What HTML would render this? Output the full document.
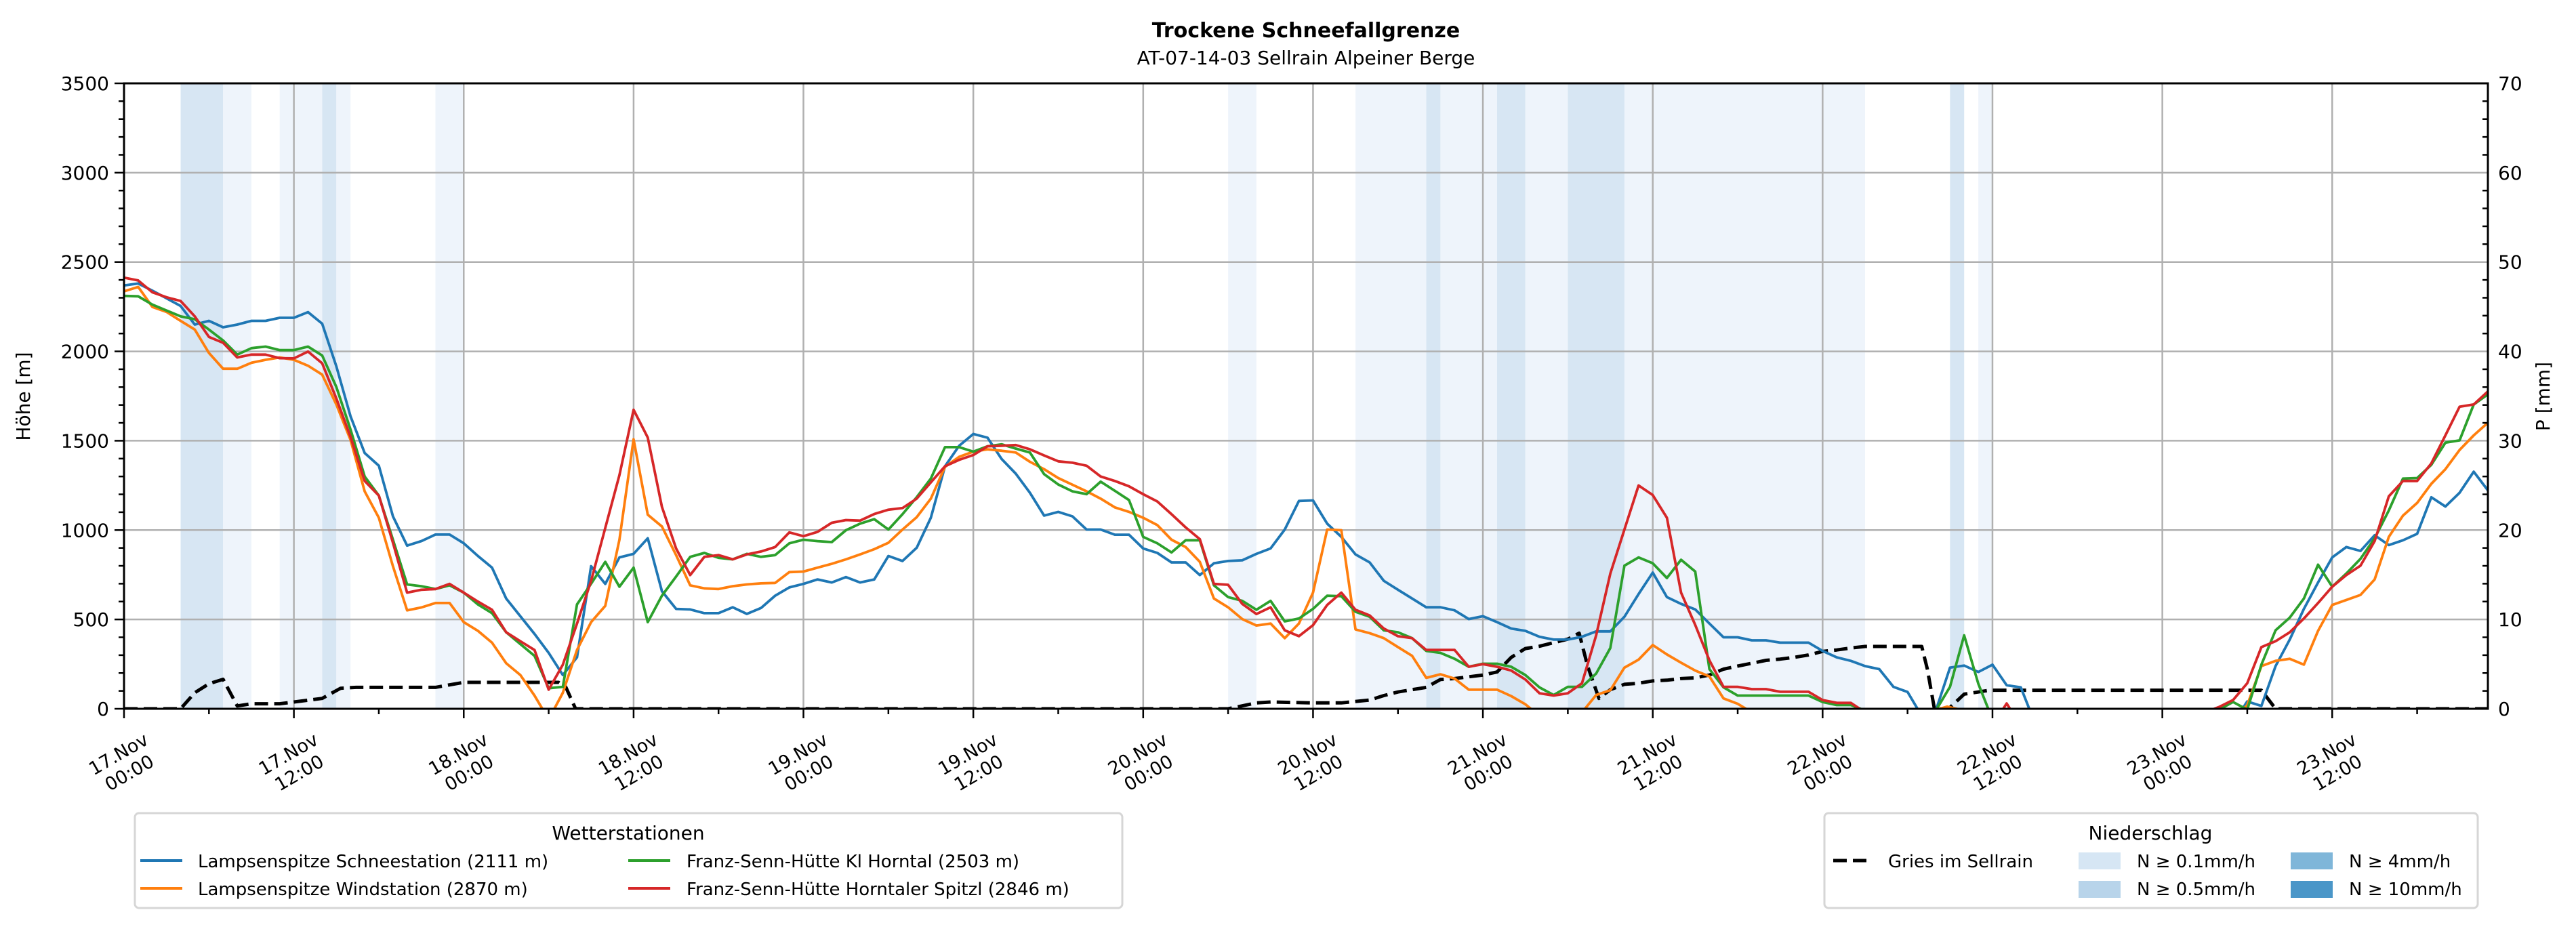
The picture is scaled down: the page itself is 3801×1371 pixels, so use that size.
<!DOCTYPE html>
<html><head><meta charset="utf-8"><style>
html,body{margin:0;padding:0;background:#fff;}
svg{display:block;font-family:"DejaVu Sans","Liberation Sans",sans-serif;}
</style></head><body>
<svg id="chart" width="3801" height="1371" viewBox="0 0 3801 1371" xmlns="http://www.w3.org/2000/svg">
<defs><clipPath id="plotclip"><rect x="183" y="123" width="3488" height="923"/></clipPath></defs>
<rect width="3801" height="1371" fill="#fff"/>
<text x="1927" y="55" text-anchor="middle" font-size="30" font-weight="bold">Trockene Schneefallgrenze</text>
<text x="1927" y="95" text-anchor="middle" font-size="28">AT-07-14-03 Sellrain Alpeiner Berge</text>
<g id="bands" clip-path="url(#plotclip)"></g>
<g id="grid"></g>
<g id="series" clip-path="url(#plotclip)"></g>
<g id="axes"></g>
<text transform="translate(44,585) rotate(-90)" text-anchor="middle" font-size="28">Höhe [m]</text>
<text transform="translate(3762,585) rotate(-90)" text-anchor="middle" font-size="28">P [mm]</text>

<g>
<rect x="199" y="1200" width="1457" height="140" rx="6" fill="#fff" stroke="#d6d6d6" stroke-width="3"/>
<text x="927" y="1239" text-anchor="middle" font-size="28">Wetterstationen</text>
<g><line x1="207" y1="1270" x2="269" y2="1270" stroke="#1f77b4" stroke-width="4"/><text x="292" y="1280" font-size="26">Lampsenspitze Schneestation (2111 m)</text></g>
<g><line x1="207" y1="1311" x2="269" y2="1311" stroke="#ff7f0e" stroke-width="4"/><text x="292" y="1321" font-size="26">Lampsenspitze Windstation (2870 m)</text></g>
<g><line x1="927" y1="1270" x2="989" y2="1270" stroke="#2ca02c" stroke-width="4"/><text x="1013" y="1280" font-size="26">Franz-Senn-Hütte Kl Horntal (2503 m)</text></g>
<g><line x1="927" y1="1311" x2="989" y2="1311" stroke="#d62728" stroke-width="4"/><text x="1013" y="1321" font-size="26">Franz-Senn-Hütte Horntaler Spitzl (2846 m)</text></g>
</g>

<g>
<rect x="2692" y="1200" width="964" height="140" rx="6" fill="#fff" stroke="#d6d6d6" stroke-width="3"/>
<text x="3173" y="1239" text-anchor="middle" font-size="28">Niederschlag</text>
<g><line x1="2705" y1="1270" x2="2760" y2="1270" stroke="#000" stroke-width="5" stroke-dasharray="20 9"/><text x="2786" y="1280" font-size="26">Gries im Sellrain</text></g>
<g><rect x="3067" y="1258" width="62" height="25" fill="#d6e6f4"/><text x="3153" y="1280" font-size="26">N ≥ 0.1mm/h</text></g>
<g><rect x="3067" y="1300" width="62" height="25" fill="#b8d4ea"/><text x="3153" y="1321" font-size="26">N ≥ 0.5mm/h</text></g>
<g><rect x="3380" y="1258" width="62" height="25" fill="#7fb6d9"/><text x="3466" y="1280" font-size="26">N ≥ 4mm/h</text></g>
<g><rect x="3380" y="1300" width="62" height="25" fill="#4a96c8"/><text x="3466" y="1321" font-size="26">N ≥ 10mm/h</text></g>
</g>
</svg>
<script>
const bandStart=[4,7,11,14,15,22,78,87,92,93,97,99,102,106,129,131];
const bandEnd=[7,9,14,15,16,24,80,92,93,97,99,102,106,123,130,132];
const bandLevel=[2,1,1,2,1,1,1,1,2,1,2,1,2,1,2,1];

const xTickDays=["17.Nov","17.Nov","18.Nov","18.Nov","19.Nov","19.Nov","20.Nov","20.Nov","21.Nov","21.Nov","22.Nov","22.Nov","23.Nov","23.Nov"];
const xTickTimes=["00:00","12:00","00:00","12:00","00:00","12:00","00:00","12:00","00:00","12:00","00:00","12:00","00:00","12:00"];
const yTicks=[0,500,1000,1500,2000,2500,3000,3500];
const y2Ticks=[0,10,20,30,40,50,60,70];

const blueT=[0,1,2,3,4,5,6,7,8,9,10,11,12,13,14,15,16,17,18,19,20,21,22,23,24,25,26,27,28,29,30,31,32,33,34,35,36,37,38,39,40,41,42,43,44,45,46,47,48,49,50,51,52,53,54,55,56,57,58,59,60,61,62,63,64,65,66,67,68,69,70,71,72,73,74,75,76,77,78,79,80,81,82,83,84,85,86,87,88,89,90,91,92,93,94,95,96,97,98,99,100,101,102,103,104,105,106,107,108,109,110,111,112,113,114,115,116,117,118,119,120,121,122,123,124,125,126,127,128,129,130,131,132,133,134,135,149,150,151,152,153,154,155,156,157,158,159,160,161,162,163,164,165,166,167];
const blueV=[2369,2380,2340,2297,2254,2150,2171,2135,2150,2171,2171,2188,2188,2220,2155,1916,1637,1431,1360,1077,913,938,975,975,926,855,790,617,518,419,313,189,288,798,699,847,867,954,658,559,556,535,535,568,531,564,633,679,699,724,707,737,707,724,855,827,901,1069,1357,1472,1538,1517,1398,1316,1209,1081,1102,1077,1003,1003,974,974,897,872,819,819,748,814,827,831,867,897,1003,1163,1166,1036,962,864,819,716,666,617,568,568,551,502,518,485,449,436,403,387,387,403,433,433,515,642,762,625,587,556,477,400,400,383,383,370,370,370,324,288,268,239,222,123,94,-40,-10,230,242,206,247,132,120,-80,-80,41,16,239,387,559,707,847,905,883,971,916,943,979,1184,1132,1209,1327,1222];

const orangeT=[0,1,2,3,4,5,6,7,8,9,10,11,12,13,14,15,16,17,18,19,20,21,22,23,24,25,26,27,28,29,30,31,32,33,34,35,36,37,38,39,40,41,42,43,44,45,46,47,48,49,50,51,52,53,54,55,56,57,58,59,60,61,62,63,64,65,66,67,68,69,70,71,72,73,74,75,76,77,78,79,80,81,82,83,84,85,86,87,88,89,90,91,92,93,94,95,96,97,98,99,100,101,102,103,104,105,106,107,108,109,110,111,112,113,114,115,116,127,128.8,130,149,150,151,152,153,154,155,156,157,158,159,160,161,162,163,164,165,166,167];
const orangeV=[2336,2361,2249,2221,2171,2122,1991,1903,1903,1936,1953,1966,1953,1920,1870,1703,1505,1217,1069,798,551,567,592,592,485,436,370,255,189,74,-60,90,329,485,576,946,1508,1086,1020,860,691,674,670,686,696,702,704,765,768,790,811,836,864,893,929,1003,1072,1176,1354,1410,1439,1452,1444,1434,1382,1341,1291,1254,1217,1176,1127,1102,1069,1028,946,905,822,617,568,502,466,477,395,477,650,1003,999,444,423,395,345,296,173,193,169,107,107,107,71,25,-40,-80,-80,-20,77,104,230,275,357,304,258,214,181,58,28,-20,-60,-30,12,-10,-60,20,239,268,280,247,436,581,609,637,724,962,1081,1152,1259,1341,1448,1530,1601];

const greenT=[0,1,2,3,4,5,6,7,8,9,10,11,12,13,14,15,16,17,18,19,20,21,22,23,24,25,26,27,28,29,30,31,32,33,34,35,36,37,38,39,40,41,42,43,44,45,46,47,48,49,50,51,52,53,54,55,56,57,58,59,60,61,62,63,64,65,66,67,68,69,70,71,72,73,74,75,76,77,78,79,80,81,82,83,84,85,86,87,88,89,90,91,92,93,94,95,96,97,98,99,100,101,102,103,104,105,106,107,108,109,110,111,112,113,114,119,120,121,122,123,128,129,130,131,132,147,148,149,150,151,152,153,154,155,156,157,158,159,160,161,162,163,164,165,166,167];
const greenV=[2311,2308,2262,2229,2196,2180,2122,2061,1982,2018,2027,2007,2007,2027,1977,1801,1563,1300,1193,946,696,686,670,691,650,584,535,428,362,296,115,123,584,700,822,683,790,485,633,740,850,872,845,836,867,850,860,926,946,938,933,999,1036,1061,1003,1089,1184,1288,1464,1464,1439,1469,1480,1456,1434,1313,1255,1217,1201,1271,1220,1168,962,926,875,943,943,691,625,604,554,604,489,505,559,633,630,543,515,439,428,395,324,313,280,235,252,252,235,189,120,77,123,123,197,340,801,847,814,732,834,768,222,120,74,74,38,21,21,-10,-10,123,411,140,-60,-60,-5,38,-5,247,439,510,617,806,683,757,839,954,1110,1288,1291,1365,1489,1502,1703,1760];

const redT=[0,1,2,3,4,5,6,7,8,9,10,11,12,13,14,15,16,17,18,19,20,21,22,23,24,25,26,27,28,29,30,31,32,33,34,35,36,37,38,39,40,41,42,43,44,45,46,47,48,49,50,51,52,53,54,55,56,57,58,59,60,61,62,63,64,65,66,67,68,69,70,71,72,73,74,75,76,77,78,79,80,81,82,83,84,85,86,87,88,89,90,91,92,93,94,95,96,97,98,99,100,101,102,103,104,105,106,107,108,109,110,111,112,113,114,115,116,117,118,119,120,121,122,123,132.6,133,133.4,147,148,149,150,151,152,153,154,155,156,157,158,159,160,161,162,163,164,165,166,167];
const redV=[2413,2397,2331,2303,2282,2196,2081,2048,1966,1982,1982,1962,1961,1999,1933,1736,1522,1275,1193,929,650,666,670,699,650,600,554,428,378,329,107,247,477,716,1012,1308,1673,1518,1130,897,748,850,860,836,864,880,905,987,966,990,1041,1056,1053,1090,1114,1123,1176,1267,1357,1393,1420,1469,1472,1476,1452,1418,1385,1377,1360,1300,1275,1245,1201,1160,1089,1015,949,699,694,587,530,568,439,406,468,581,650,554,522,449,406,395,329,329,329,235,250,235,214,164,87,74,87,143,411,757,1003,1250,1196,1069,650,469,271,123,123,110,110,95,95,95,49,33,33,-20,-20,30,-20,-20,10,49,143,345,378,428,505,592,683,748,801,938,1189,1275,1275,1373,1530,1690,1703,1776];

const griesT=[0,4,5,6,7,8,9,11,12,14,15.3,16.4,22,24,30.7,31.2,31.9,78,80,81,84,86,88,89,90,91,92,93,94,96,97,98,99,100,101,102,102.8,103.4,104.2,105,106,107,108,109,110,111,112,113,114,115,116,117,118,119,120,121,122,123,127,127.4,127.9,128.9,130,131.8,151,152,167];
const griesV=[0,0,90,140,165,16,28,28,38,58,115,120,120,148,148,123,0,0,33,38,33,33,49,74,94,107,120,164,169,189,206,288,337,350,370,390,423,239,58,107,137,143,156,160,169,173,189,222,239,255,271,278,288,301,321,329,340,349,349,222,0,0,82,104,104,0,0];

const X0=183,X1=3671,Y0=1046,Y1=123,HMAX=167,MMAX=3500,PMAX=70;
const NS='http://www.w3.org/2000/svg';
function xs(h){return X0+h*(X1-X0)/HMAX;}
function ys(m){return Y0-m*(Y0-Y1)/MMAX;}
function yp(p){return Y0-p*(Y0-Y1)/PMAX;}
function mk(tag,attrs,parent){const e=document.createElementNS(NS,tag);for(const k in attrs)e.setAttribute(k,attrs[k]);parent.appendChild(e);return e;}

const bandsG=document.getElementById('bands');
const bandColor={1:'#eef4fb',2:'#d7e6f3'};
for(let i=0;i<bandStart.length;i++){
  const r=mk('rect',{x:xs(bandStart[i]),y:Y1,width:xs(bandEnd[i])-xs(bandStart[i]),height:Y0-Y1,fill:bandColor[bandLevel[i]]},bandsG);
  
  
}

const grid=document.getElementById('grid');
for(let i=0;i<xTickDays.length;i++){
  const l=mk('line',{x1:xs(i*12),x2:xs(i*12),y1:Y1,y2:Y0,stroke:'#b0b0b0','stroke-width':2.5},grid);
  
  
}
for(const t of yTicks){
  const l=mk('line',{x1:X0,x2:X1,y1:ys(t),y2:ys(t),stroke:'#b0b0b0','stroke-width':2.5},grid);
  
  
}

const series=document.getElementById('series');
function line(T,V,color,name,w,dash){
  let d='';
  for(let i=0;i<T.length;i++){d+=(i?'L':'M')+xs(T[i]).toFixed(1)+','+ys(V[i]).toFixed(1);}
  const p=mk('path',{d:d,fill:'none',stroke:color,'stroke-width':w,'stroke-linejoin':'round'},series);
  if(dash)p.setAttribute('stroke-dasharray',dash);
  
  
}
line(griesT,griesV,'#000','line-gries-im-sellrain',5,'20 9');
line(blueT,blueV,'#1f77b4','line-lamp-schneestation',3.8);
line(orangeT,orangeV,'#ff7f0e','line-lamp-windstation',3.8);
line(greenT,greenV,'#2ca02c','line-fss-kl-horntal',3.8);
line(redT,redV,'#d62728','line-fss-horntaler-spitzl',3.8);

const ax=document.getElementById('axes');
const frame=mk('rect',{x:X0,y:Y1,width:X1-X0,height:Y0-Y1,fill:'none',stroke:'#000','stroke-width':3},ax);


for(let m=0;m<=MMAX;m+=100){
  const major=m%500===0;
  const t=mk('line',{x1:X0,x2:X0-(major?14:8),y1:ys(m),y2:ys(m),stroke:'#000','stroke-width':2.5},ax);
  
  
}
for(const v of yTicks){
  const tx=mk('text',{x:X0-22,y:ys(v)+10,'text-anchor':'end','font-size':28},ax);
  tx.textContent=v;
  
  
}
for(let p=0;p<=PMAX;p+=2){
  const major=p%10===0;
  const t=mk('line',{x1:X1,x2:X1-(major?0:8),y1:yp(p),y2:yp(p),stroke:'#000','stroke-width':2.5},ax);
  
  
}
for(const v of y2Ticks){
  const tx=mk('text',{x:X1+15,y:yp(v)+10,'text-anchor':'start','font-size':28},ax);
  tx.textContent=v;
  
  
}
for(let h=0;h<=HMAX;h+=6){
  const major=h%12===0;
  const t=mk('line',{x1:xs(h),x2:xs(h),y1:Y0,y2:Y0+(major?14:8),stroke:'#000','stroke-width':2.5},ax);
  
  
}
for(let i=0;i<xTickDays.length;i++){
  const g=mk('g',{transform:'translate('+xs(i*12)+',1127) rotate(-30)'},ax);
  
  
  const a=mk('text',{x:0,y:-7,'text-anchor':'middle','font-size':27},g);a.textContent=xTickDays[i];
  const b=mk('text',{x:0,y:25,'text-anchor':'middle','font-size':27},g);b.textContent=xTickTimes[i];
}
</script>
</body></html>
